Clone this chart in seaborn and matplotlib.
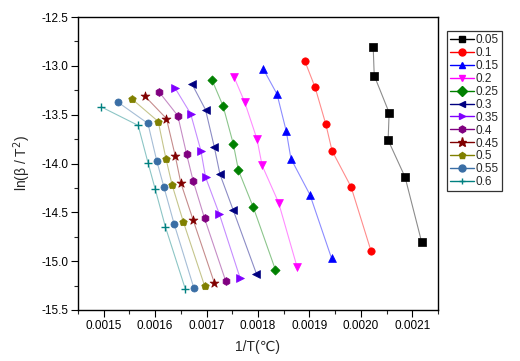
import pandas as pd
import matplotlib
matplotlib.use("Agg")
import matplotlib.pyplot as plt
import seaborn as sns
from matplotlib.lines import Line2D
from matplotlib.ticker import MultipleLocator

sns.set_theme(style="ticks")
plt.rcParams["font.family"] = ["Liberation Sans", "DejaVu Sans"]
plt.rcParams["axes.unicode_minus"] = False

# conversion values (legend labels)
alphas = ["0.05", "0.1", "0.15", "0.2", "0.25", "0.3", "0.35", "0.4", "0.45", "0.5", "0.55", "0.6"]

# 1/T values for each heating rate, per conversion
x_005 = [0.002024, 0.002026, 0.002055, 0.002053, 0.002086, 0.002118]
x_010 = [0.001891, 0.001911, 0.001932, 0.001944, 0.001981, 0.002020]
x_015 = [0.001810, 0.001837, 0.001855, 0.001864, 0.001901, 0.001943]
x_020 = [0.001753, 0.001774, 0.001798, 0.001808, 0.001840, 0.001876]
x_025 = [0.001711, 0.001732, 0.001752, 0.001762, 0.001791, 0.001834]
x_030 = [0.001672, 0.001698, 0.001715, 0.001726, 0.001752, 0.001797]
x_035 = [0.001639, 0.001669, 0.001689, 0.001698, 0.001725, 0.001765]
x_040 = [0.001608, 0.001644, 0.001661, 0.001674, 0.001696, 0.001737]
x_045 = [0.001580, 0.001622, 0.001639, 0.001650, 0.001674, 0.001715]
x_050 = [0.001555, 0.001606, 0.001621, 0.001633, 0.001655, 0.001696]
x_055 = [0.001527, 0.001586, 0.001603, 0.001617, 0.001637, 0.001675]
x_060 = [0.001495, 0.001567, 0.001586, 0.001600, 0.001620, 0.001659]

# ln(beta/T^2) values
y_005 = [-12.81, -13.10, -13.48, -13.76, -14.14, -14.80]
y_010 = [-12.95, -13.22, -13.60, -13.87, -14.24, -14.90]
y_015 = [-13.03, -13.29, -13.67, -13.95, -14.32, -14.97]
y_020 = [-13.11, -13.37, -13.75, -14.02, -14.40, -15.06]
y_025 = [-13.15, -13.41, -13.80, -14.07, -14.45, -15.09]
y_030 = [-13.19, -13.45, -13.83, -14.11, -14.48, -15.13]
y_035 = [-13.23, -13.49, -13.87, -14.14, -14.52, -15.17]
y_040 = [-13.27, -13.51, -13.90, -14.18, -14.56, -15.20]
y_045 = [-13.31, -13.54, -13.92, -14.20, -14.58, -15.22]
y_050 = [-13.34, -13.57, -13.95, -14.22, -14.60, -15.25]
y_055 = [-13.37, -13.59, -13.97, -14.24, -14.62, -15.27]
y_060 = [-13.42, -13.61, -13.99, -14.26, -14.65, -15.29]

xs = [x_005, x_010, x_015, x_020, x_025, x_030, x_035, x_040, x_045, x_050, x_055, x_060]
ys = [y_005, y_010, y_015, y_020, y_025, y_030, y_035, y_040, y_045, y_050, y_055, y_060]

colors = ["#000000", "#ff0000", "#0000ff", "#ff00ff", "#008000", "#000080",
          "#8000ff", "#800080", "#800000", "#808000", "#3a6ea5", "#008080"]
markers = ["s", "o", "^", "v", "D", "<", ">", "h", "*", "p", "o", "+"]
msizes = [26, 28, 32, 32, 22, 32, 32, 32, 45, 32, 26, 38]

rows = []
for a, xv, yv in zip(alphas, xs, ys):
    for i, (x, y) in enumerate(zip(xv, yv)):
        rows.append({"alpha": a, "idx": i, "x": x, "y": y})
df = pd.DataFrame(rows)

fig = plt.figure(figsize=(5.2, 3.61), dpi=100)
ax = fig.add_axes([78 / 520, 1 - 310 / 361, 360 / 520, 293 / 361])

palette = dict(zip(alphas, colors))
sns.lineplot(data=df, x="x", y="y", hue="alpha", palette=palette, sort=False,
             estimator=None, units="alpha", linewidth=0.8, alpha=0.45,
             legend=False, ax=ax)
for a, m, s in zip(alphas, markers, msizes):
    sub = df[df["alpha"] == a]
    if m == "+":
        sns.scatterplot(data=sub, x="x", y="y", color=palette[a], marker=m, s=s,
                        linewidth=1.0, legend=False, ax=ax, zorder=3)
    else:
        sns.scatterplot(data=sub, x="x", y="y", color=palette[a], marker=m, s=s,
                        edgecolor=palette[a], linewidth=0.5, legend=False, ax=ax, zorder=3)

ax.set_xlim(0.00145, 0.00215)
ax.set_ylim(-15.5, -12.5)
ax.xaxis.set_major_locator(MultipleLocator(0.0001))
ax.xaxis.set_minor_locator(MultipleLocator(0.00005))
ax.yaxis.set_major_locator(MultipleLocator(0.5))
ax.yaxis.set_minor_locator(MultipleLocator(0.25))
ax.set_xticklabels([f"{v:.4f}" for v in ax.get_xticks()])
ax.set_xlim(0.00145, 0.00215)
ax.tick_params(axis="both", which="major", direction="out", length=5, width=0.8,
               labelsize=8.5, pad=2, colors="black")
ax.tick_params(axis="both", which="minor", direction="out", length=3, width=0.8)
for sp in ax.spines.values():
    sp.set_linewidth(1.0)
    sp.set_color("black")

ax.set_xlabel("1/T(℃)", fontsize=10, labelpad=6)
ax.set_ylabel("ln(β / T$^2$)", fontsize=10, labelpad=6)

handles = []
for a, c, m in zip(alphas, colors, markers):
    handles.append(Line2D([0], [0], color=c, marker=m, markersize=5 if m != "*" else 6.5,
                          linewidth=1.0, markeredgecolor=c, markerfacecolor=c))
fig.legend(handles=handles, labels=alphas, loc="upper left",
           bbox_to_anchor=(447 / 520, 1 - 31 / 361), frameon=True, fancybox=False,
           edgecolor="black", fontsize=8.5, handlelength=2.0, handletextpad=0.2,
           labelspacing=0.08, borderpad=0.25, borderaxespad=0)
fig.legends[0].get_frame().set_linewidth(0.9)

fig.savefig("out.png", dpi=100)
